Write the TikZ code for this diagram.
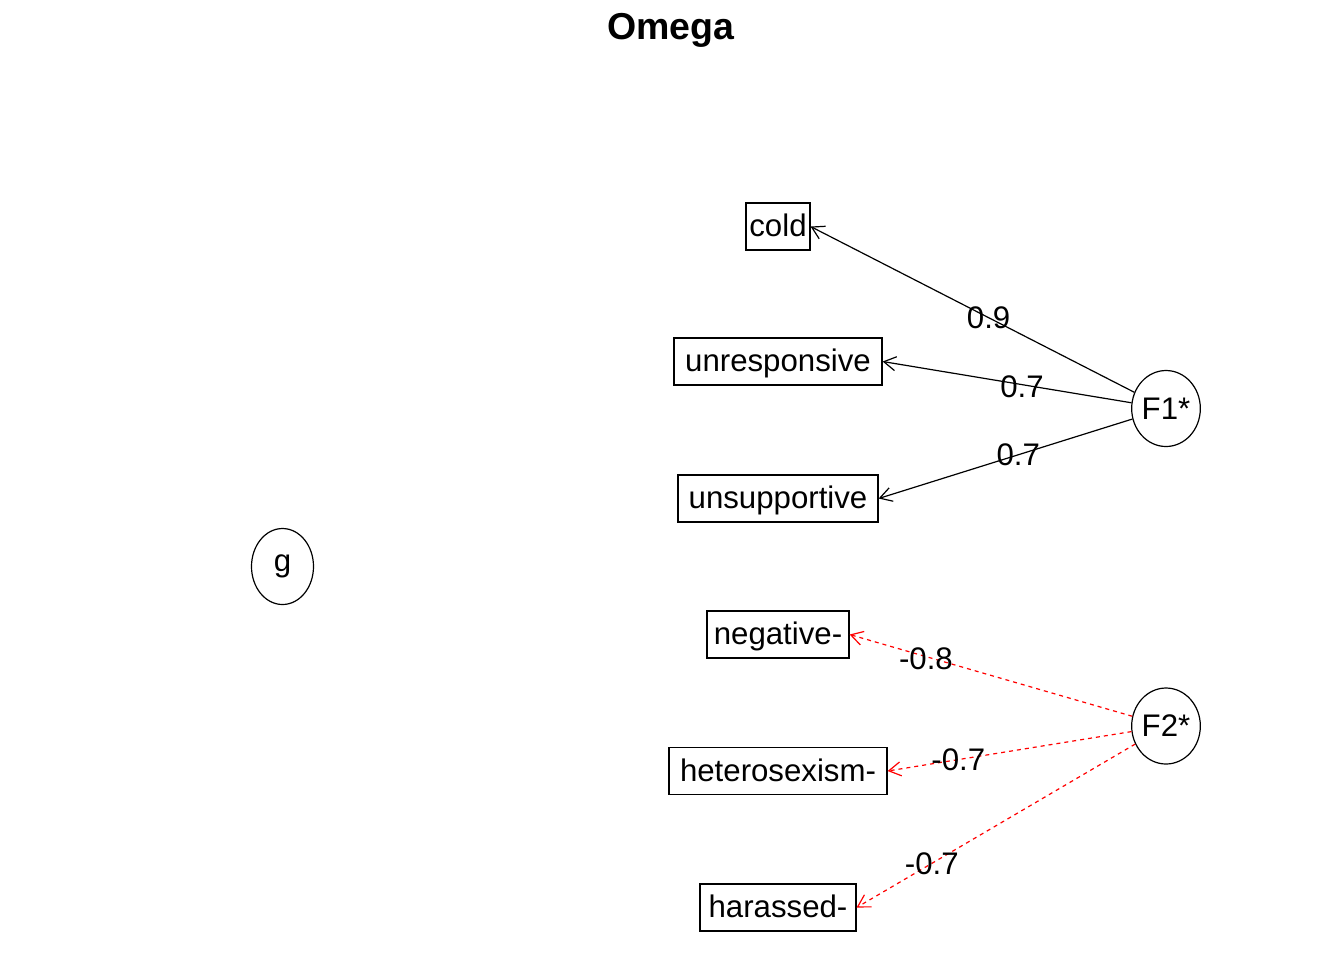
\documentclass[tikz,border=0pt]{standalone}
\usepackage{xcolor}
\usepackage{fontspec}
\setmainfont{Liberation Sans}
\usetikzlibrary{arrows.meta,shapes.geometric}

\begin{document}
\begin{tikzpicture}[x=0.5pt,y=-0.5pt,
	every node/.style={font=\fontsize{15.6}{18}\selectfont},
	var/.style={draw,line width=0.6pt,rectangle,minimum height=23.5pt,inner xsep=0pt,text depth=1pt},
	factor/.style={draw,line width=0.6pt,ellipse,minimum width=31pt,minimum height=38pt,inner sep=0pt},
	loading/.style={line width=0.6pt,-{Straight Barb[length=6pt,width=7pt]}},
	neg/.style={loading,red,dash pattern=on 2pt off 2pt},
	coef/.style={text=black,inner sep=0pt}]
	\useasboundingbox (0,0) rectangle (1344,960);
	\node (title) at (671,30) {\fontsize{18.75}{22}\selectfont\bfseries Omega};
	\node[var,minimum width=32pt] (cold) at (778,226.5) {cold};
	\node[var,minimum width=104pt] (unresponsive) at (778,361.5) {unresponsive};
	\node[var,minimum width=100pt] (unsupportive) at (778,498.5) {unsupportive};
	\node[var,minimum width=71pt] (negative) at (778,634.5) {negative-};
	\node[var,minimum width=109pt] (heterosexism) at (778,771) {heterosexism-};
	\node[var,minimum width=78pt] (harassed) at (778,907.5) {harassed-};
	\node[factor] (F1) at (1166,408.5) {F1*};
	\node[factor] (F2) at (1166,726) {F2*};
	\node[factor] (g) at (282.5,566.5) {g};
	\draw[loading] (F1) -- (cold.east) node[coef,pos=0.45] {0.9};
	\draw[loading] (F1) -- (unresponsive.east) node[coef,pos=0.44,yshift=-1pt] {0.7};
	\draw[loading] (F1) -- (unsupportive.east) node[coef,pos=0.45] {0.7};
	\draw[neg] (F2) -- (negative.east) node[coef,pos=0.73,yshift=-1pt] {-0.8};
	\draw[neg] (F2) -- (heterosexism.east) node[coef,pos=0.71] {-0.7};
	\draw[neg] (F2) -- (harassed.east) node[coef,pos=0.73] {-0.7};
\end{tikzpicture}
\end{document}
